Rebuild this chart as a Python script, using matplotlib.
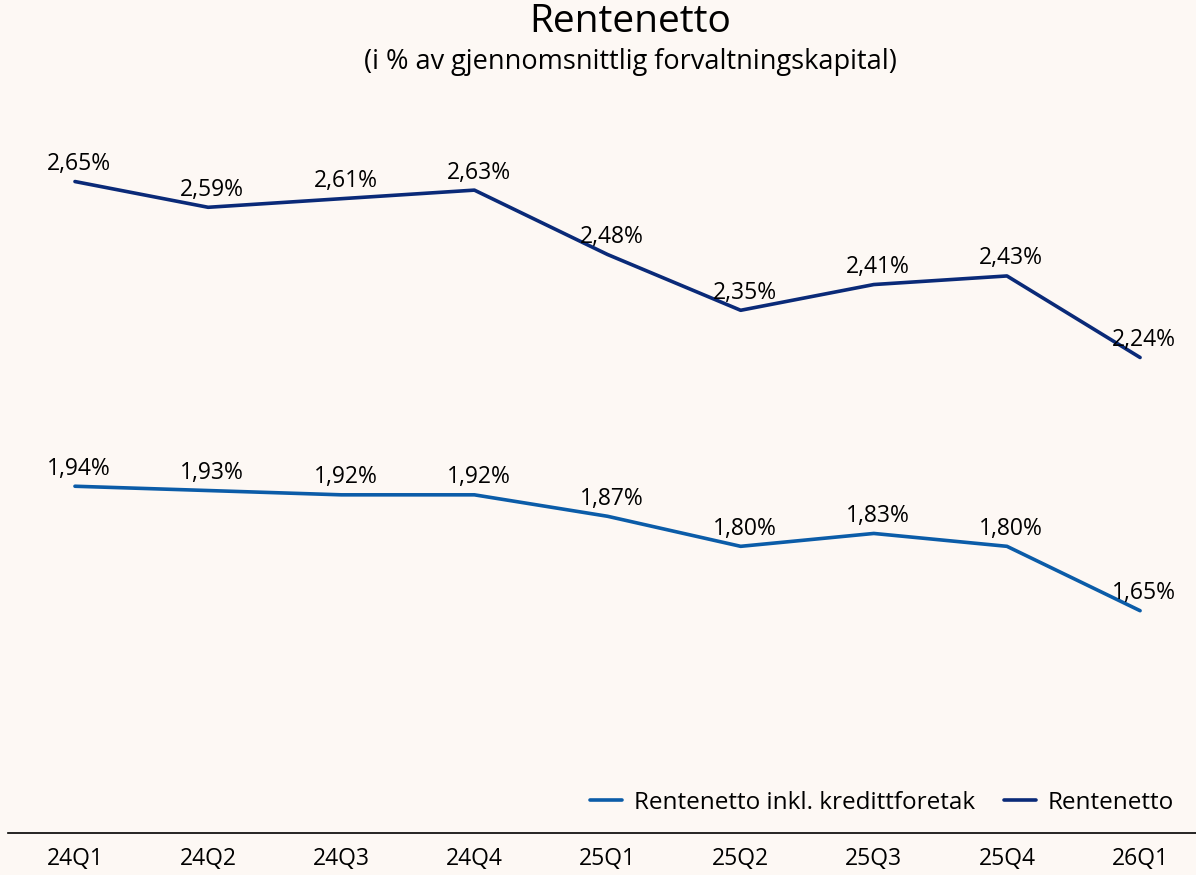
import numpy as np
import matplotlib.pyplot as plt

# Data
kvartaler = ['24Q1', '24Q2', '24Q3', '24Q4', '25Q1', '25Q2', '25Q3', '25Q4', '26Q1']
rentenetto = [2.65, 2.59, 2.61, 2.63, 2.48, 2.35, 2.41, 2.43, 2.24]
rentenetto_inkl = [1.94, 1.93, 1.92, 1.92, 1.87, 1.80, 1.83, 1.80, 1.65]

bg = '#FDF8F4'
col_dark = '#0A2A78'
col_light = '#0B5CA8'

plt.rcParams['font.family'] = ['Open Sans', 'DejaVu Sans']

fig = plt.figure(figsize=(11.96, 8.75), dpi=100, facecolor=bg)
ax = fig.add_axes([8 / 1196, (875 - 833) / 875, 1 - 8 / 1196, (833 - 100) / 875])
ax.set_facecolor(bg)

x = np.arange(len(kvartaler))
ax.plot(x, rentenetto_inkl, color=col_light, lw=2.6, label='Rentenetto inkl. kredittforetak',
        solid_capstyle='round')
ax.plot(x, rentenetto, color=col_dark, lw=2.6, label='Rentenetto', solid_capstyle='round')

for serie in (rentenetto, rentenetto_inkl):
    for xi, v in zip(x, serie):
        ax.annotate(f'{v:.2f}%'.replace('.', ','), (xi, v), xytext=(3, 4),
                    textcoords='offset points', ha='center', va='bottom', fontsize=16.5)

ax.set_xlim(-0.503, 8.42)
ax.set_ylim(1.132, 2.84)
ax.set_yticks([])
ax.set_xticks(x)
ax.set_xticklabels(kvartaler, fontsize=16.5)
ax.tick_params(axis='x', length=0, pad=10)
for s in ('top', 'right', 'left'):
    ax.spines[s].set_visible(False)
ax.spines['bottom'].set_linewidth(1.2)

ax.legend(loc='lower right', ncol=2, frameon=False, fontsize=17.5, handlelength=1.3,
          columnspacing=1.2, handletextpad=0.5, bbox_to_anchor=(1.0, -0.005))

fig.text(630 / 1196, 1 - 22 / 875, 'Rentenetto', ha='center', va='center', fontsize=28)
fig.text(630 / 1196, 1 - 62 / 875, '(i % av gjennomsnittlig forvaltningskapital)',
         ha='center', va='center', fontsize=19.5)

fig.savefig('out.png', dpi=100, facecolor=bg)
